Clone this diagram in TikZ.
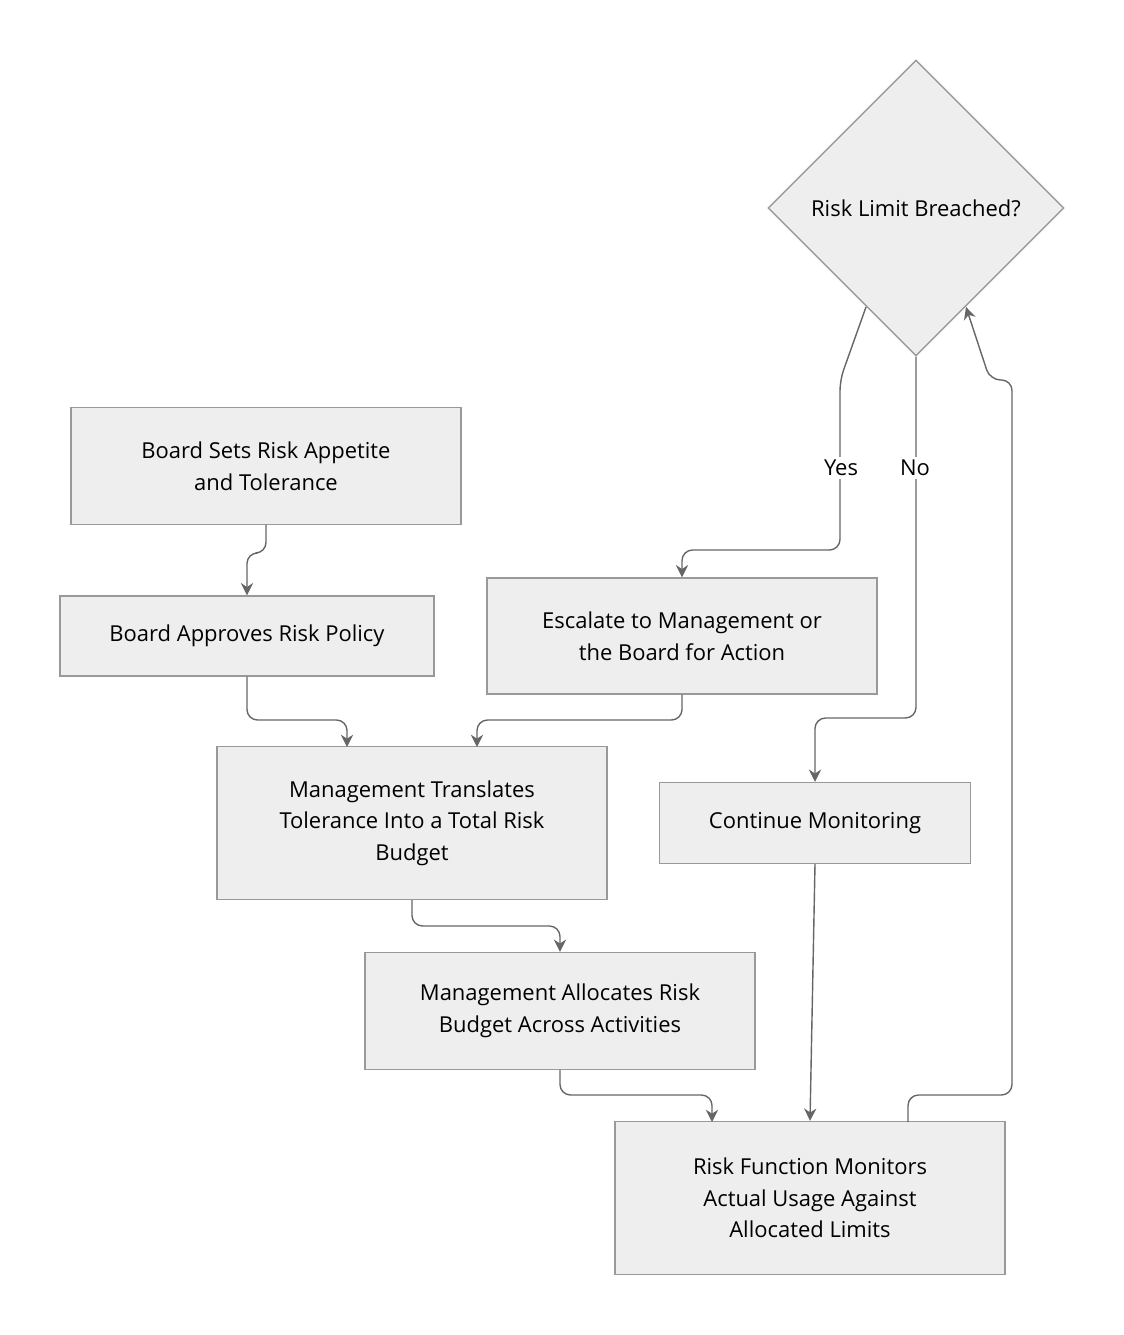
\documentclass[tikz,border=0pt]{standalone}
\usepackage{fontspec}
\setmainfont{Open Sans}
\usetikzlibrary{arrows.meta,shapes.geometric,positioning}
\definecolor{boxfill}{HTML}{EEEEEE}
\definecolor{boxline}{HTML}{999999}
\definecolor{arrowcol}{HTML}{666666}
\tikzset{
  stepbox/.style={draw=boxline, fill=boxfill, thick, align=center, font=\fontsize{12.5}{18}\selectfont, inner sep=0pt},
  decision/.style={diamond, draw=boxline, fill=boxfill, thick, font=\fontsize{12.5}{18}\selectfont, minimum width=5.92cm, minimum height=5.92cm, inner sep=0pt},
  flow/.style={draw=arrowcol, thick, rounded corners=6pt, -{Stealth[length=7pt,width=7pt]}},
  lbl/.style={fill=white, font=\fontsize{12.5}{15}\selectfont, inner sep=2pt}
}
\begin{document}
\begin{tikzpicture}[x=0.02cm, y=-0.02cm]
		\useasboundingbox (0,0) rectangle (1124,1335);
		
		% process boxes
		\node[stepbox, minimum width=7.8cm, minimum height=2.34cm] (appetite) at (266,466) {Board Sets Risk Appetite\\and Tolerance};
		\node[stepbox, minimum width=7.48cm, minimum height=1.6cm] (policy) at (247,636) {Board Approves Risk Policy};
		\node[stepbox, minimum width=7.8cm, minimum height=3.06cm] (translate) at (412,823) {Management Translates\\Tolerance Into a Total Risk\\Budget};
		\node[stepbox, minimum width=7.8cm, minimum height=2.34cm] (allocate) at (560,1011) {Management Allocates Risk\\Budget Across Activities};
		\node[stepbox, minimum width=7.8cm, minimum height=3.06cm] (monitor) at (810,1198) {Risk Function Monitors\\Actual Usage Against\\Allocated Limits};
		\node[decision] (breach) at (916,208) {Risk Limit Breached?};
		\node[stepbox, minimum width=7.8cm, minimum height=2.32cm] (escalate) at (682,636) {Escalate to Management or\\the Board for Action};
		\node[stepbox, minimum width=6.22cm, minimum height=1.62cm] (continue) at (815,823) {Continue Monitoring};
		
		% connectors
		\draw[flow] (appetite.south) -- (266,553) -- (247,553) -- (policy.north);
		\draw[flow] (policy.south) -- (247,720) -- (347,720) -- (347,747);
		\draw[flow] (escalate.south) -- (682,720) -- (477,720) -- (477,747);
		\draw[flow] (translate.south) -- (412,926) -- (560,926) -- (allocate.north);
		\draw[flow] (allocate.south) -- (560,1095) -- (712,1095) -- (712,1122);
		\draw[flow] (continue.south) -- (monitor.north);
		\draw[flow] (908,1122) -- (908,1095) -- (1012,1095) -- (1012,380) -- (990,380) -- (966,307);
		\draw[flow] (866,307) -- (840,380) -- (840,550) -- (682,550) -- (escalate.north);
		\draw[flow] (breach.south) -- (916,718) -- (815,718) -- (continue.north);
		
		% branch labels
		\node[lbl] (yes) at (841,468) {Yes};
		\node[lbl] (no) at (915,468) {No};
	\end{tikzpicture}
\end{document}
